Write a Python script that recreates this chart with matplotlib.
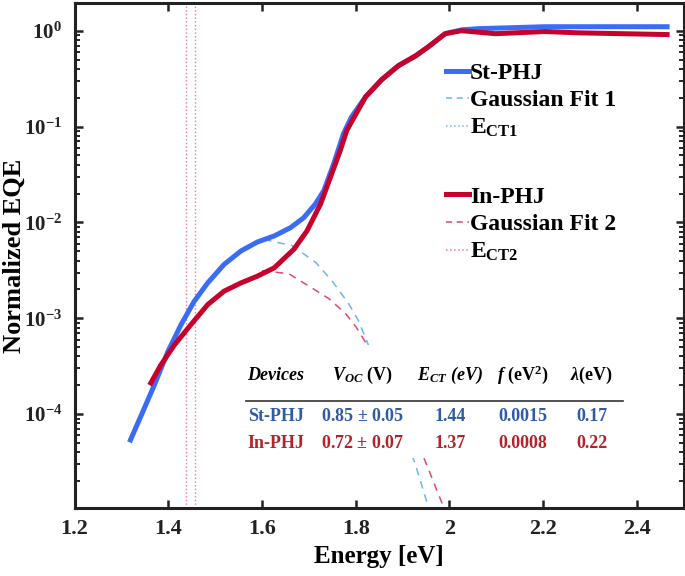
import matplotlib
matplotlib.use("Agg")
import matplotlib.pyplot as plt
from matplotlib.lines import Line2D
from matplotlib.patches import Rectangle
from matplotlib.ticker import LogLocator, NullFormatter, FixedLocator

plt.rcParams["font.family"] = ["Liberation Serif", "DejaVu Serif"]
plt.rcParams["font.weight"] = "bold"
plt.rcParams["axes.labelweight"] = "bold"
plt.rcParams["mathtext.fontset"] = "custom"
plt.rcParams["mathtext.rm"] = "Liberation Serif:bold"
plt.rcParams["mathtext.bf"] = "Liberation Serif:bold"
plt.rcParams["mathtext.it"] = "Liberation Serif:bold:italic"

# St-PHJ measured EQE
st_e = [1.317, 1.342, 1.370, 1.399, 1.427, 1.455, 1.484, 1.519, 1.555, 1.590,
        1.626, 1.661, 1.689, 1.714, 1.732, 1.753, 1.774, 1.791, 1.821, 1.855,
        1.891, 1.928, 1.955, 1.991, 2.026, 2.062, 2.204, 2.338, 2.470]
st_eqe = [5.1e-5, 9.7e-5, 2.01e-4, 4.50e-4, 8.57e-4, 1.50e-3, 2.34e-3, 3.65e-3,
          5.04e-3, 6.25e-3, 7.23e-3, 8.83e-3, 1.12e-2, 1.56e-2, 2.15e-2, 4.09e-2,
          8.45e-2, 0.126, 0.204, 0.307, 0.431, 0.547, 0.679, 0.931, 1.02, 1.05,
          1.10, 1.10, 1.10]

# In-PHJ measured EQE
in_e = [1.360, 1.384, 1.413, 1.448, 1.484, 1.519, 1.555, 1.590, 1.626, 1.668,
        1.696, 1.725, 1.746, 1.767, 1.781, 1.821, 1.855, 1.891, 1.928, 1.955,
        1.991, 2.026, 2.098, 2.204, 2.274, 2.470]
in_eqe = [2.01e-4, 3.26e-4, 5.28e-4, 8.57e-4, 1.39e-3, 1.92e-3, 2.34e-3, 2.75e-3,
          3.36e-3, 5.25e-3, 8.17e-3, 1.56e-2, 2.96e-2, 5.64e-2, 9.14e-2, 0.204,
          0.307, 0.431, 0.547, 0.679, 0.931, 1.00, 0.93, 0.98, 0.95, 0.91]

# gaussian fits (CT band)
fit1_e = [1.604, 1.664, 1.715, 1.749, 1.785, 1.806, 1.826, 1.926, 1.960]
fit1_eqe = [6.64e-3, 5.74e-3, 3.81e-3, 2.47e-3, 1.42e-3, 9.42e-4, 5.41e-4, 3.14e-5, 9.0e-6]
fit2_e = [1.600, 1.657, 1.706, 1.743, 1.779, 1.802, 1.823, 1.945, 1.992]
fit2_eqe = [3.14e-3, 2.92e-3, 2.08e-3, 1.60e-3, 1.11e-3, 7.96e-4, 5.41e-4, 3.55e-5, 9.5e-6]

ect_lines = [1.437, 1.456]

table_cols = ["Devices", "$V_{OC}$ (V)", "$E_{CT}$ (eV)", "$f$ (eV$^2$)", r"$\lambda$(eV)"]
table_rows = [["St-PHJ", "0.85 $\\pm$ 0.05", "1.44", "0.0015", "0.17"],
              ["In-PHJ", "0.72 $\\pm$ 0.07", "1.37", "0.0008", "0.22"]]

blue = "#3a6cf4"
red = "#c8002c"
lblue = "#6fb4f5"
lred = "#dc4a6c"
dot_red = "#f07a8e"

fig = plt.figure(figsize=(6.85, 5.76), dpi=100)
ax = fig.add_axes([0.109, 0.118, 0.889, 0.877])

for xe in ect_lines:
    ax.axvline(xe, color=dot_red, lw=1.0, ls=":", zorder=1)

ax.plot(fit1_e, fit1_eqe, color=lblue, lw=1.1, ls=(0, (5, 4)), zorder=2)
ax.plot(fit2_e, fit2_eqe, color=lred, lw=1.1, ls=(0, (5, 4)), zorder=2)
ax.plot(st_e, st_eqe, color=blue, lw=3.6, zorder=3, solid_capstyle="butt",
        solid_joinstyle="round")
ax.plot(in_e, in_eqe, color=red, lw=3.6, zorder=3, solid_capstyle="butt",
        solid_joinstyle="round")

ax.set_yscale("log")
ax.set_xlim(1.2, 2.5)
ax.set_ylim(1.05e-5, 1.95)
ax.xaxis.set_major_locator(FixedLocator([1.2, 1.4, 1.6, 1.8, 2.0, 2.2, 2.4]))
ax.set_xticklabels(["1.2", "1.4", "1.6", "1.8", "2", "2.2", "2.4"])
ax.yaxis.set_major_locator(LogLocator(base=10, numticks=10))
ax.yaxis.set_minor_locator(LogLocator(base=10, subs=range(2, 10), numticks=10))
ax.yaxis.set_minor_formatter(NullFormatter())

for s in ax.spines.values():
    s.set_linewidth(2.2)
    s.set_color("#222222")
ax.tick_params(which="major", direction="in", length=6, width=1.8, top=True,
               right=True, labelsize=16, pad=8, colors="#222222")
ax.tick_params(axis="y", which="major", labelsize=15, pad=9)
ax.tick_params(which="minor", direction="in", length=3.5, width=1.2, top=True,
               right=True)
ax.set_xlabel("Energy [eV]", fontsize=18, labelpad=4)
ax.set_ylabel("Normalized EQE", fontsize=19)
ax.yaxis.set_label_coords(-0.08, 0.5)

# table with white background
ax.add_patch(Rectangle((0.255, 0.099), 0.656, 0.224, transform=ax.transAxes,
                       facecolor="white", edgecolor="none", zorder=4))
col_x = [0.330, 0.473, 0.616, 0.736, 0.849]
for i, c in enumerate(table_cols):
    st = "italic" if i in (0, 2) else "normal"
    ax.text(col_x[i], 0.263, c, transform=ax.transAxes, ha="center", va="center",
            fontsize=13, style=st, zorder=5, color="black")
ax.plot([0.281, 0.900], [0.212, 0.212], transform=ax.transAxes, color="#333333",
        lw=1.2, zorder=5)
row_colors = ["#2f5ba5", "#b2232a"]
for r, row in enumerate(table_rows):
    for i, v in enumerate(row):
        ax.text(col_x[i], [0.182, 0.127][r], v, transform=ax.transAxes, ha="center",
                va="center", fontsize=13, color=row_colors[r], zorder=5)

h1 = [Line2D([], [], color=blue, lw=3.6),
      Line2D([], [], color=lblue, lw=1.1, ls=(0, (4, 3))),
      Line2D([], [], color=lblue, lw=1.1, ls=":")]
h2 = [Line2D([], [], color=red, lw=3.6),
      Line2D([], [], color=lred, lw=1.1, ls=(0, (4, 3))),
      Line2D([], [], color=dot_red, lw=1.1, ls=":")]
leg_kw = dict(loc="upper left", frameon=False, fontsize=17, handlelength=0.95,
              handletextpad=0.05, labelspacing=0.25, borderaxespad=0)
leg1 = ax.legend(h1, ["St-PHJ", "Gaussian Fit 1", "E$_{\\rm CT1}$"],
                 bbox_to_anchor=(0.595, 0.901), **leg_kw)
ax.add_artist(leg1)
ax.legend(h2, ["In-PHJ", "Gaussian Fit 2", "E$_{\\rm CT2}$"],
          bbox_to_anchor=(0.595, 0.656), **leg_kw)

fig.savefig("out.png", dpi=100)
